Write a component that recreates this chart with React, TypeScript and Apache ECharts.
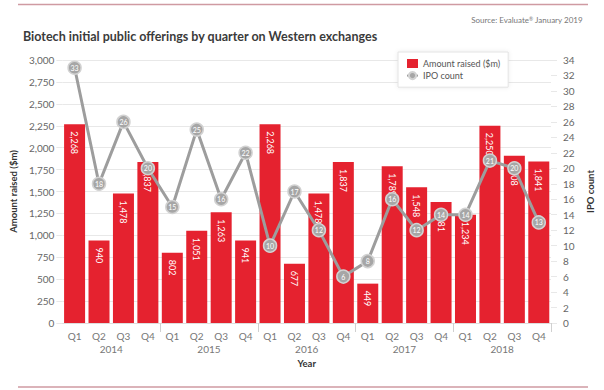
import React, { useEffect, useRef } from "react";
import * as echarts from "echarts";

const years = ["2014", "2015", "2016", "2017", "2018"];
const quarters = ["Q1", "Q2", "Q3", "Q4"];
const amountRaised = [
  2268, 940, 1478, 1837,
  802, 1051, 1263, 941,
  2268, 677, 1478, 1837,
  449, 1789, 1548, 1381,
  1234, 2250, 1908, 1841,
];
const ipoCount = [
  33, 18, 26, 20,
  15, 25, 16, 22,
  10, 17, 12, 6,
  8, 16, 12, 14,
  14, 21, 20, 13,
];

const FONT = "Lato";
const fmt = (v: number) => Number(v).toLocaleString("en-US");

export default function App() {
  const ref = useRef<HTMLDivElement>(null);
  useEffect(() => {
    document.body.style.margin = "0";
    const chart = echarts.init(ref.current!, null, { renderer: "svg" });
    const quarterCats = years.flatMap(() => quarters);
    chart.setOption({
      animation: false,
      backgroundColor: "#ffffff",
      textStyle: { fontFamily: FONT },
      title: [
        {
          text: "Biotech initial public offerings by quarter on Western exchanges",
          left: 18,
          top: 25,
          textStyle: { fontSize: 12.5, fontWeight: "bold", color: "#3b3b3b", fontFamily: FONT },
        },
        {
          text: "{a|Source: Evaluate}{b|®}{a| January 2019}",
          right: 16,
          top: 11,
          textStyle: {
            fontWeight: "normal",
            rich: {
              a: { fontSize: 8, color: "#777", fontWeight: "normal", fontFamily: FONT },
              b: { fontSize: 5, color: "#777", fontWeight: "normal", verticalAlign: "top", fontFamily: FONT },
            },
          },
        },
      ],
      legend: {
        orient: "vertical",
        left: 398,
        top: 52,
        padding: [7, 8, 7, 8],
        itemGap: 3,
        itemWidth: 11,
        itemHeight: 9,
        backgroundColor: "#ffffff",
        borderColor: "#e3e3e3",
        borderWidth: 1,
        shadowBlur: 4,
        shadowColor: "rgba(0,0,0,0.08)",
        textStyle: { fontSize: 9, color: "#555", fontFamily: FONT },
        data: [{ name: "Amount raised ($m)", icon: "rect" }, { name: "IPO count" }],
      },
      grid: { left: 61, right: 53, top: 60, bottom: 67, containLabel: false },
      xAxis: [
        {
          type: "category",
          data: quarterCats,
          axisLine: { lineStyle: { color: "#dddddd" } },
          axisTick: { show: false },
          axisLabel: { interval: 0, color: "#777", fontSize: 10, margin: 8 },
        },
        {
          type: "category",
          data: years,
          position: "bottom",
          offset: 8,
          axisLine: { show: false },
          axisTick: {
            show: true,
            length: 9,
            interval: (i: number) => i > 0,
            lineStyle: { color: "#d0d0d0" },
          },
          axisLabel: { color: "#777", fontSize: 10, margin: 13 },
          name: "Year",
          nameLocation: "middle",
          nameGap: 26,
          nameTextStyle: { fontWeight: "bold", fontSize: 9.5, color: "#333" },
        },
      ],
      yAxis: [
        {
          type: "value",
          min: 0,
          max: 3000,
          interval: 250,
          axisLine: { show: false },
          axisTick: { show: true, length: 6, lineStyle: { color: "#e8e8e8" } },
          splitLine: { lineStyle: { color: "#e8e8e8" } },
          axisLabel: { color: "#666", fontSize: 10, margin: 8, formatter: (v: number) => fmt(v) },
          name: "Amount raised ($m)",
          nameLocation: "middle",
          nameGap: 31,
          nameTextStyle: { fontWeight: "bold", fontSize: 9.5, color: "#333" },
        },
        {
          type: "value",
          min: 0,
          max: 34,
          interval: 2,
          position: "right",
          axisLine: { show: false },
          axisTick: { show: true, length: 6, lineStyle: { color: "#e8e8e8" } },
          splitLine: { show: false },
          axisLabel: { color: "#666", fontSize: 10, margin: 12 },
          name: "IPO count",
          nameLocation: "middle",
          nameGap: 27,
          nameTextStyle: { fontWeight: "bold", fontSize: 9.5, color: "#333" },
        },
      ],
      series: [
        {
          name: "Amount raised ($m)",
          type: "bar",
          data: amountRaised,
          barWidth: 21,
          itemStyle: { color: "#e5222f" },
          label: {
            show: true,
            position: "insideTop",
            distance: 7,
            rotate: -90,
            align: "left",
            verticalAlign: "middle",
            color: "#ffffff",
            fontSize: 9,
            formatter: (p: any) => fmt(p.value),
          },
        },
        {
          name: "IPO count",
          type: "line",
          yAxisIndex: 1,
          data: ipoCount,
          z: 5,
          color: "#9d9d9d",
          lineStyle: { color: "#9d9d9d", width: 3 },
          symbol: "circle",
          symbolSize: 13,
          itemStyle: { color: "#a6a6a6", borderColor: "#d2d2d2", borderWidth: 1.5 },
          label: { show: true, position: "inside", color: "#ffffff", fontSize: 7 },
        },
      ],
      graphic: [
        { type: "line", shape: { x1: 18, y1: 4.5, x2: 588, y2: 4.5 }, style: { stroke: "#cf9aa2", lineWidth: 1.5 } },
        { type: "line", shape: { x1: 18, y1: 387, x2: 588, y2: 387 }, style: { stroke: "#cf9aa2", lineWidth: 1.5 } },
      ],
    });
    return () => chart.dispose();
  }, []);
  return (
    <div
      ref={ref}
      style={{ width: 604, height: 390, position: "absolute", left: 0, top: 0, background: "#fff" }}
    />
  );
}
